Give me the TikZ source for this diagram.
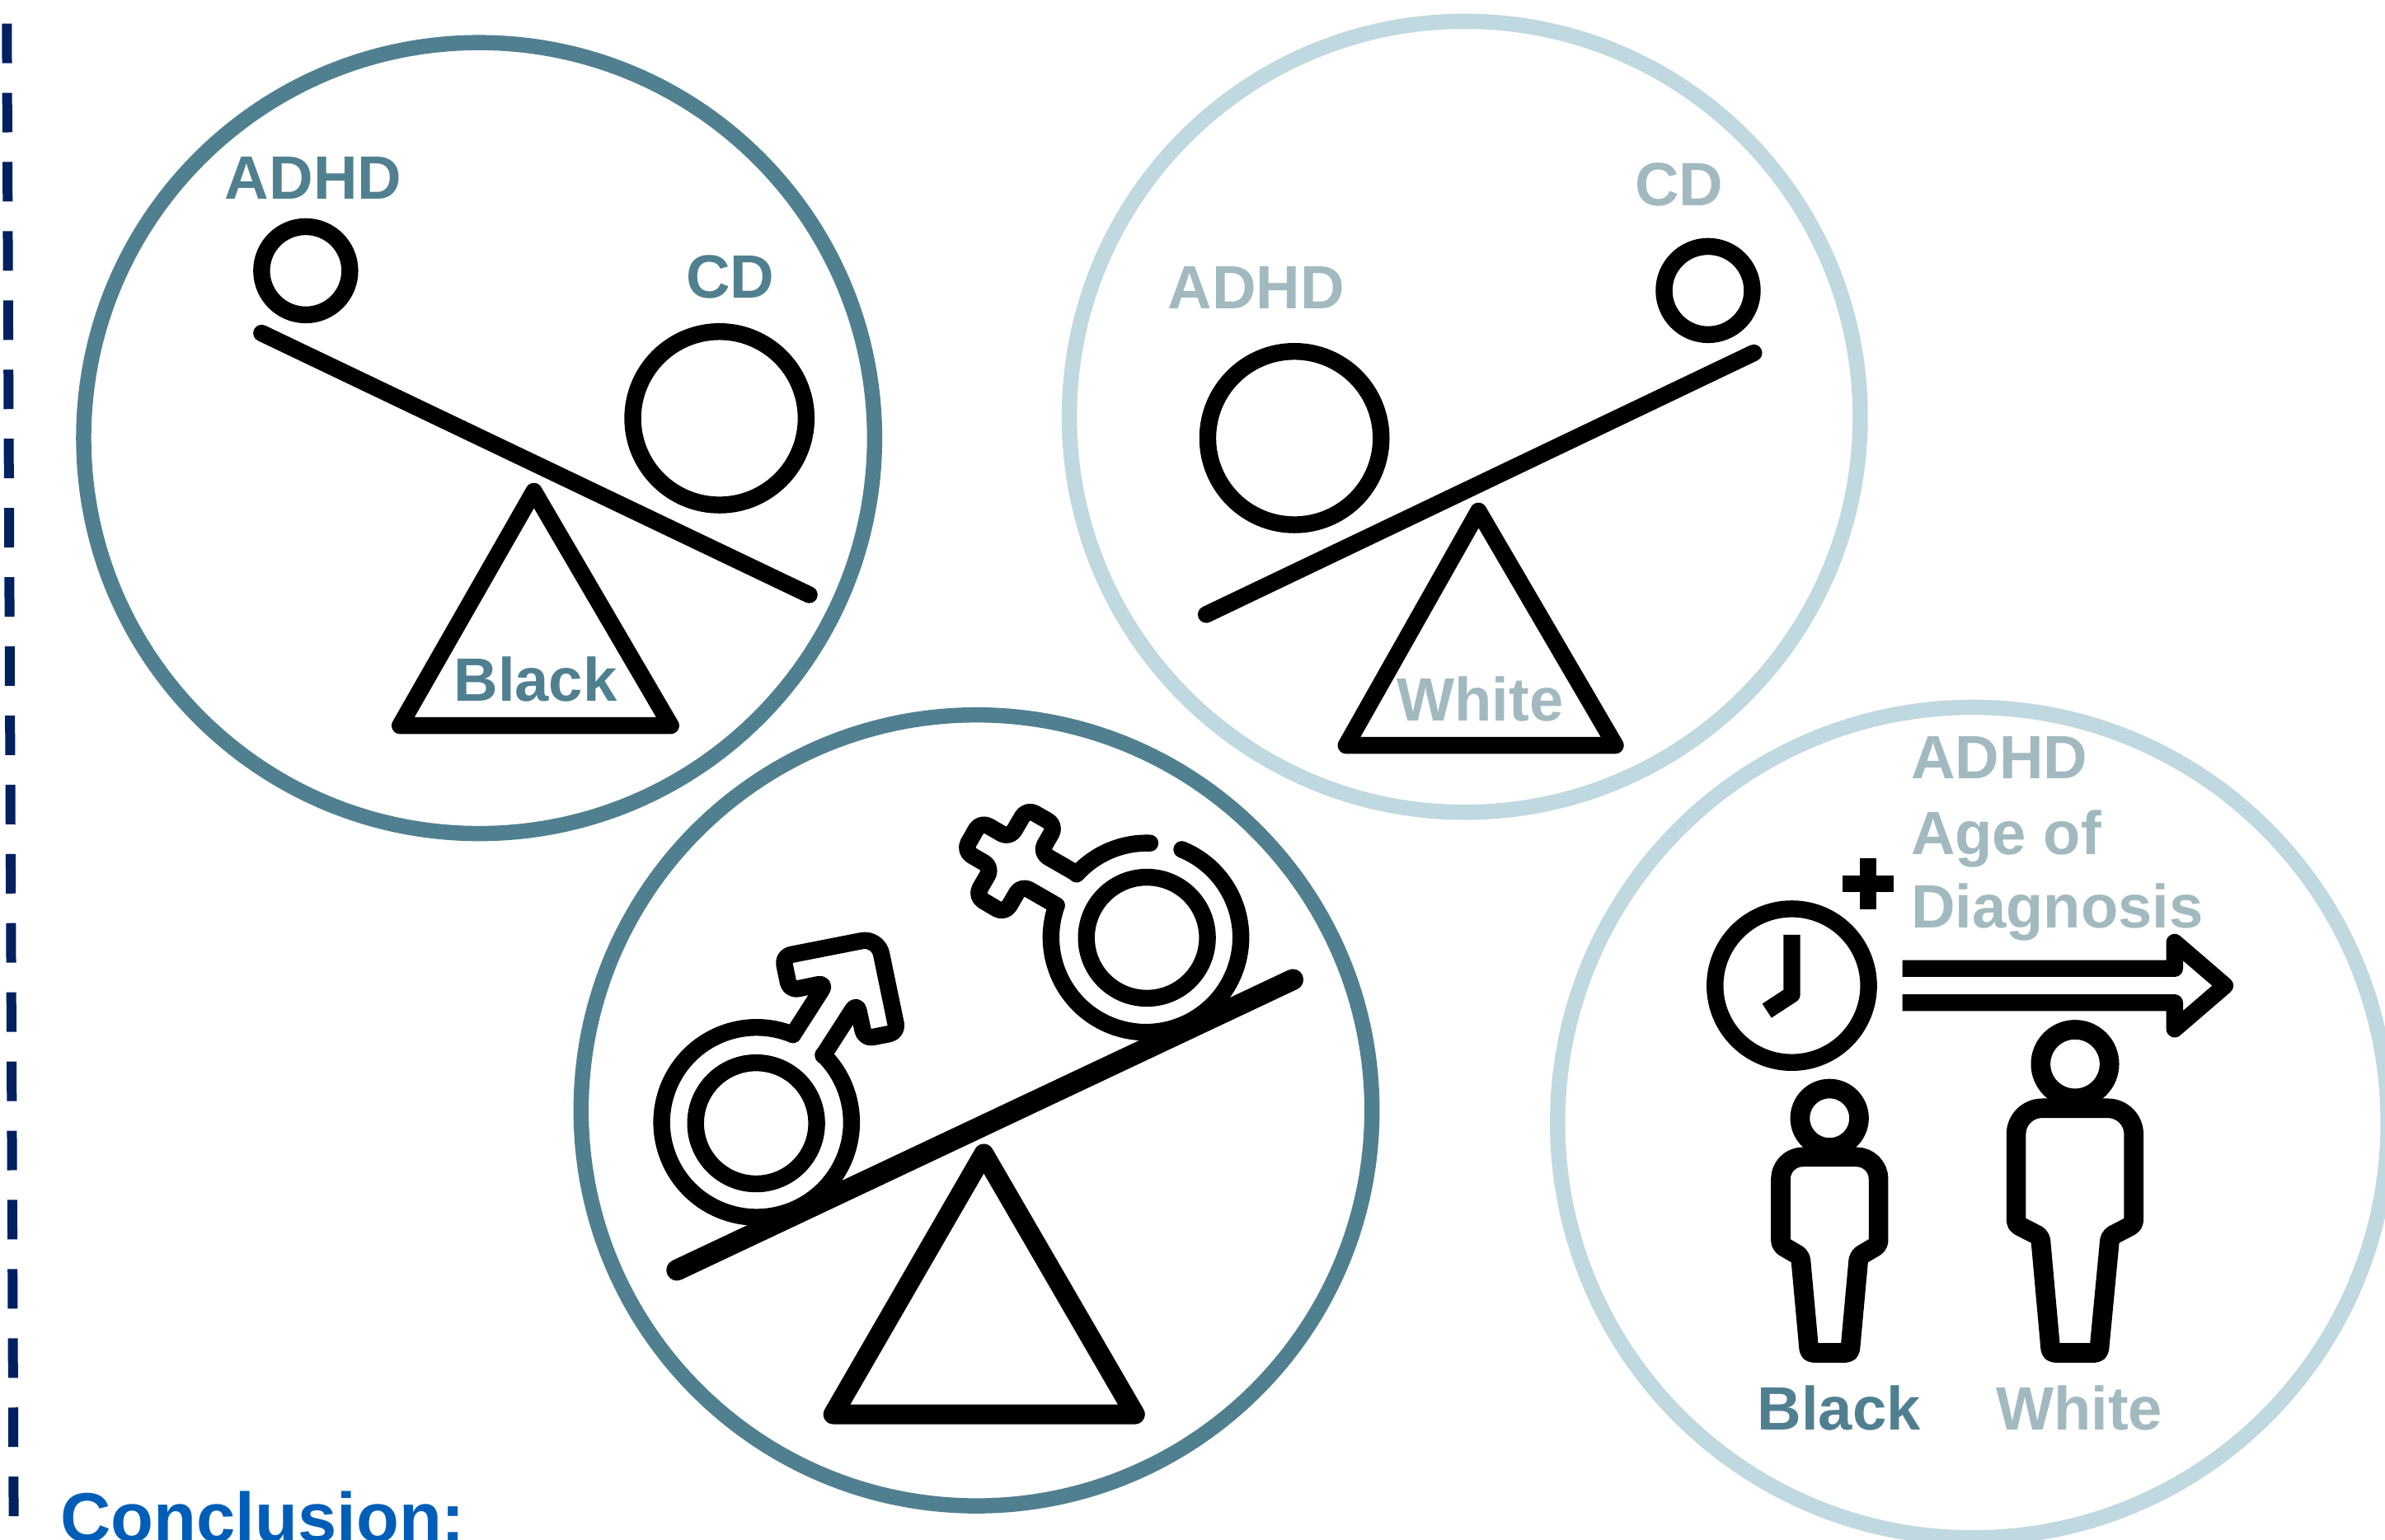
\documentclass[tikz,border=0pt]{standalone}
\usepackage{fontspec}
\setmainfont{Liberation Sans}
\usepackage{xcolor}
\usetikzlibrary{arrows.meta,positioning,calc}
\definecolor{darkteal}{HTML}{508090}
\definecolor{paleteal}{HTML}{C0D8E0}
\definecolor{greyteal}{HTML}{A2B9C0}
\definecolor{concblue}{HTML}{005EB8}
\definecolor{dashnavy}{HTML}{002060}
\tikzset{
  darkring/.style={draw=darkteal,line width=5.7pt},
  palering/.style={draw=paleteal,line width=5.7pt},
  icon/.style={draw=black,line width=6.3pt,line join=round,line cap=round},
  iconcut/.style={draw=black,line width=6.3pt,line join=round},
  person/.style={draw=black,line width=7.3pt,line join=round,line cap=round},
  darklab/.style={text=darkteal,anchor=base,inner sep=0pt,font=\fontsize{22.9}{26}\selectfont\bfseries},
  palelab/.style={text=greyteal,anchor=base,inner sep=0pt,font=\fontsize{22.9}{26}\selectfont\bfseries},
}
\begin{document}
\begin{tikzpicture}[x=0.02cm,y=-0.02cm]
\useasboundingbox (0,0) rectangle (1568,1012);
% divider
\draw[dashnavy,line width=3.7pt,dash pattern=on 0.52cm off 0.39cm] (4.5,15.5) -- (9,997);
% big circles
\draw[darkring] (315,288) circle (260);
\draw[palering] (963,274) circle (260);
\draw[darkring] (642,730) circle (260);
\draw[palering] (1297,738) circle (273);
% Black seesaw
\draw[icon] (201,178) circle (29);
\draw[icon] (473,275) circle (57);
\draw[icon] (172,219) -- (532,391);
\draw[icon] (351,323) -- (441,477) -- (263,477) -- cycle;
\node[darklab] (adhdblack) at (206,131) {ADHD};
\node[darklab] (cdblack) at (480,196) {CD};
\node[darklab] (blackbase) at (352,461) {Black};
% White seesaw
\draw[icon] (1123,191) circle (29);
\draw[icon] (851,288) circle (57);
\draw[icon] (793,404) -- (1153,232);
\draw[icon] (972,336) -- (1062,490) -- (885,490) -- cycle;
\node[palelab] (adhdwhite) at (826,203) {ADHD};
\node[palelab] (cdwhite) at (1104,135) {CD};
\node[palelab] (whitebase) at (973,474) {White};
% sex seesaw
\draw[icon,line width=7.9pt] (445,835) -- (850,644);
\draw[icon,line width=7.4pt] (646.8,758.5) -- (746.2,929.8) -- (547.8,929.8) -- cycle;
\draw[icon] (497.1,738.5) circle (39.8);
\draw[icon] (754,616.5) circle (39.8);
\draw[icon] (521.3,680.2) arc[start angle=-67.5,end angle=-405.4,radius=62.4];
\draw[icon,rounded corners=1.1mm] (521.3,680.2) -- (543.1,646.2) -- (519.2,651.1) -- (514.6,628.7) [rounded corners=2.2mm] -- (577.2,616.4) [rounded corners=1.1mm] -- (590.1,678.6) -- (568.4,682.9) -- (563.4,659.4) -- (541.2,693.9);
\draw[icon,rounded corners=1.2mm] (707,573.8) -- (683.9,560.5) -- (694.2,542.7) -- (675.1,531.7) -- (663.8,551.1) -- (644.7,540.1) -- (633.7,559.4)
  -- (652.3,570.2) -- (641.3,589.2) -- (660.6,600.6) -- (671.4,581.9) -- (694.6,595.3);
\draw[icon] (694.6,595.3) arc[start angle=199.6,end angle=-67.8,radius=62.4];
\draw[icon] (756.1,554.3) arc[start angle=-88,end angle=-137.7,radius=62.4];
% age of diagnosis
\draw[icon] (1178,648) circle (50.5);
\draw[iconcut] (1178,614.6) -- (1178,653.8) -- (1161.6,664.5);
\draw[iconcut] (1211.6,581) -- (1245,581);
\draw[iconcut] (1228,564) -- (1228,597.6);
\draw[iconcut] (1250.7,636.7) -- (1429.7,636.7) -- (1429.7,619.5) -- (1462.8,648) -- (1429.7,676.5) -- (1429.7,659.2) -- (1250.7,659.2);
\node[palelab,anchor=base west] (adhdage) at (1256,512) {ADHD};
\node[palelab,anchor=base west] (ageof) at (1256,562) {Age of};
\node[palelab,anchor=base west] (diagnosis) at (1256,610) {Diagnosis};
% persons
\draw[person] (1202.8,735.1) circle (19.4);
\draw[person,rounded corners=0.5mm] (1203,760.6) [rounded corners=2.9mm] -- (1235,760.6) [rounded corners=0.5mm] -- (1235,818.4) -- (1222,826) -- (1216.2,889.4) -- (1189.5,889.4) -- (1183.7,826) -- (1170.7,818.4) [rounded corners=2.9mm] -- (1170.7,760.6) [rounded corners=0.5mm] -- cycle;
\draw[person] (1364.2,699.5) circle (22.6);
\draw[person,rounded corners=0.5mm] (1364.2,728.6) [rounded corners=3.4mm] -- (1402.8,728.6) [rounded corners=0.5mm] -- (1402.8,804.9) -- (1387.2,813) -- (1379.9,889.4) -- (1348.3,889.4) -- (1341.4,813) -- (1325.5,804.9) [rounded corners=3.4mm] -- (1325.5,728.6) [rounded corners=0.5mm] -- cycle;
\node[darklab] (blackage) at (1209,940) {Black};
\node[palelab] (whiteage) at (1367,940) {White};
% heading
\node[text=concblue,anchor=base west,inner sep=0pt,font=\fontsize{26.2}{30}\selectfont\bfseries] (conclusion) at (39.5,1014) {Conclusion:};
\end{tikzpicture}
\end{document}
